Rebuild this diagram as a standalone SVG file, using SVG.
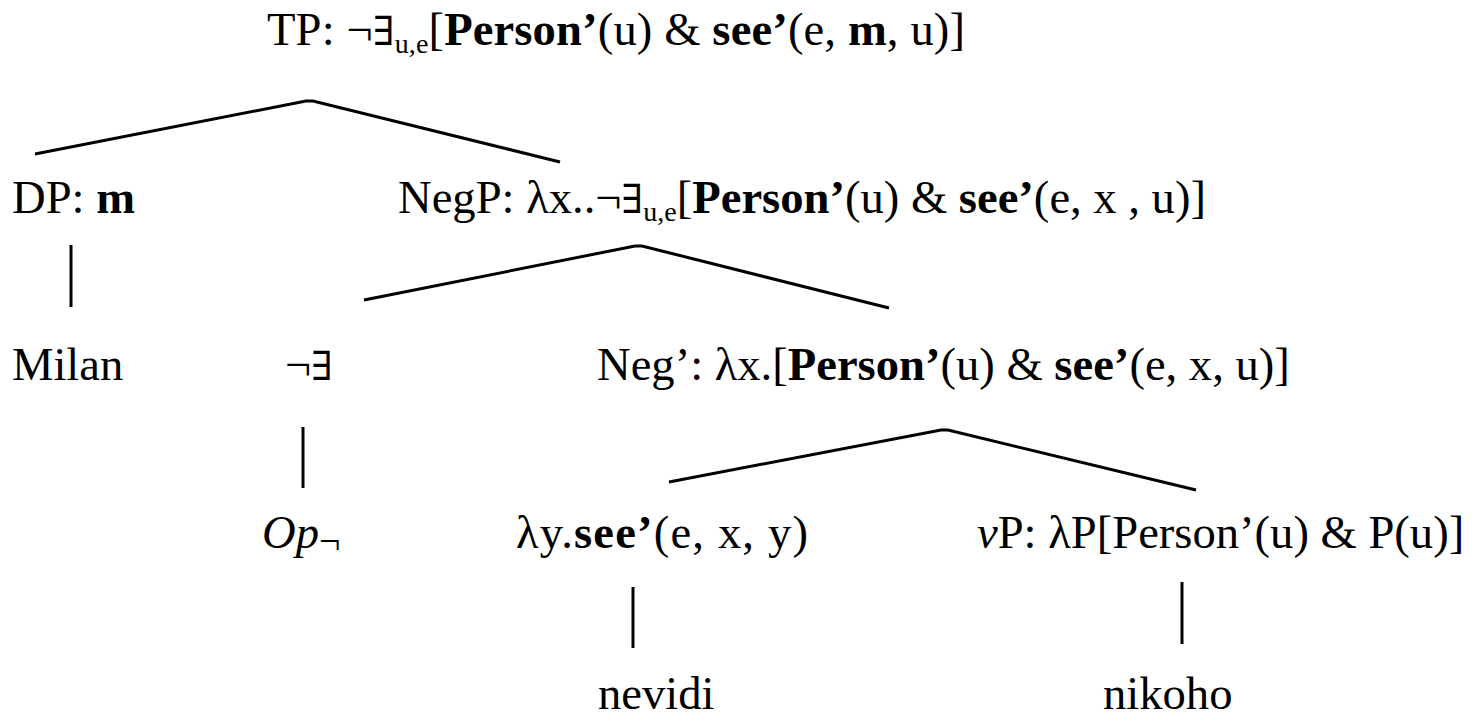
<svg xmlns="http://www.w3.org/2000/svg" width="1474" height="719" viewBox="0 0 1474 719">
<style>
text{font-family:"Liberation Serif","Times New Roman",serif;font-size:46.6px;fill:#000}
.b{font-weight:bold}
.i{font-style:italic}
.sub{font-size:28px}
.neg{font-size:38px}
.q{font-family:"DejaVu Serif","Liberation Serif",serif;font-size:40px}
.edge{stroke:#000;stroke-width:3;fill:none;stroke-linejoin:miter}
</style>
<rect width="1474" height="719" fill="#fff"/>
<g id="connectors">
<polyline class="edge" points="35,154 306,101 313,101 560,162"/>
<polyline class="edge" points="364,300 635,246 642,246 889,308"/>
<polyline class="edge" points="669,482 941,430 948,430 1196,490"/>
<line class="edge" x1="71" y1="245" x2="71" y2="307"/>
<line class="edge" x1="303" y1="427" x2="303" y2="488"/>
<line class="edge" x1="633" y1="587" x2="633" y2="648"/>
<line class="edge" x1="1182" y1="582" x2="1182" y2="644"/>
</g>
<g id="TP"><text x="267" y="45" textLength="698" lengthAdjust="spacing">TP: ¬<tspan class="q">∃</tspan><tspan class="sub" dy="8">u,e</tspan><tspan dy="-8">[</tspan><tspan class="b">Person’</tspan>(u) &amp; <tspan class="b">see’</tspan>(e, <tspan class="b">m</tspan>, u)]</text></g>
<g id="DP"><text x="12" y="213">DP: <tspan class="b">m</tspan></text></g>
<g id="NegP"><text x="398" y="213">NegP: λx..¬<tspan class="q">∃</tspan><tspan class="sub" dy="8">u,e</tspan><tspan dy="-8">[</tspan><tspan class="b">Person’</tspan>(u) &amp; <tspan class="b">see’</tspan>(e, x , u)]</text></g>
<g id="Milan"><text x="12" y="380">Milan</text></g>
<g id="NegExists"><text x="285" y="380">¬<tspan class="q">∃</tspan></text></g>
<g id="NegBar"><text x="597" y="380">Neg’: λx.[<tspan class="b">Person’</tspan>(u) &amp; <tspan class="b">see’</tspan>(e, x, u)]</text></g>
<g id="Op"><text x="262" y="548"><tspan class="i">Op</tspan><tspan class="neg" dy="6">¬</tspan></text></g>
<g id="LambdaY"><text x="516" y="548" textLength="292" lengthAdjust="spacing">λy.<tspan class="b">see’</tspan>(e, x, y)</text></g>
<g id="vP"><text x="977" y="548"><tspan class="i">v</tspan>P: λP[Person’(u) &amp; P(u)]</text></g>
<g id="nevidi"><text x="598" y="709">nevidi</text></g>
<g id="nikoho"><text x="1103" y="709">nikoho</text></g>
</svg>
